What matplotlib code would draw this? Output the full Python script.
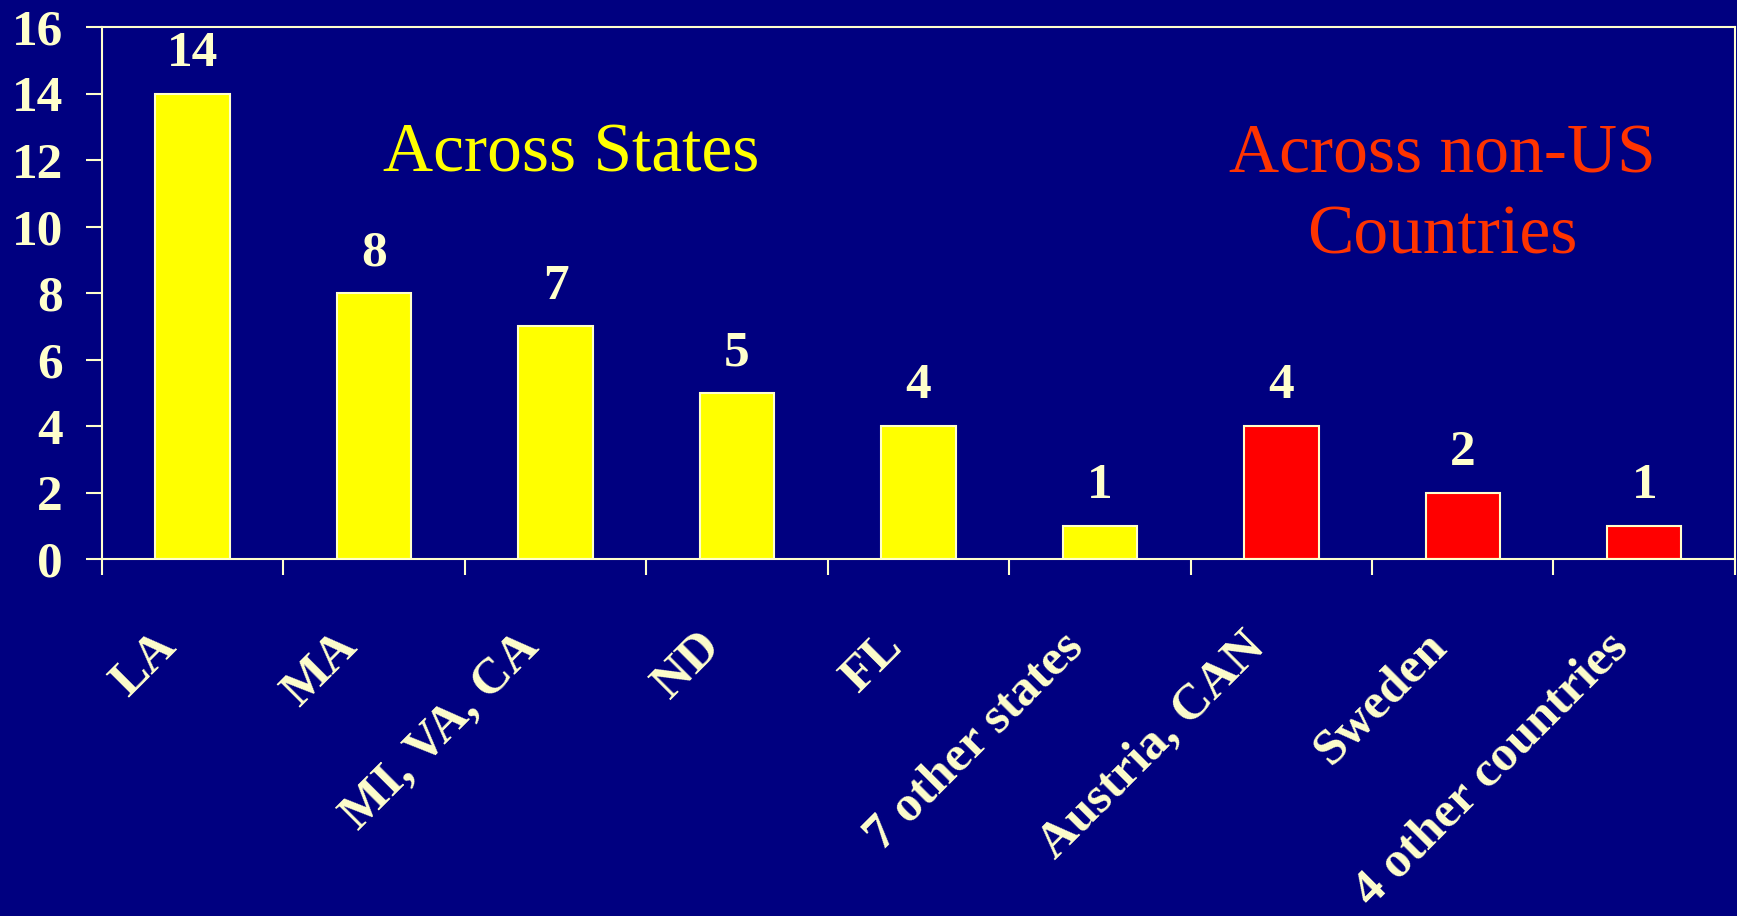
import numpy as np
import matplotlib
matplotlib.use("Agg")
import matplotlib.pyplot as plt
import matplotlib.transforms as mtransforms

# data
categories = ["LA", "MA", "MI, VA, CA", "ND", "FL", "7 other states",
              "Austria, CAN", "Sweden", "4 other countries"]
counts = [14, 8, 7, 5, 4, 1, 4, 2, 1]
group = ["US", "US", "US", "US", "US", "US", "nonUS", "nonUS", "nonUS"]
yticks = [0, 2, 4, 6, 8, 10, 12, 14, 16]

navy = "#000080"
cream = "#FFFFCC"
bar_colours = {"US": "#FFFF00", "nonUS": "#FF0000"}

plt.rcParams['font.family'] = ['Liberation Serif', 'DejaVu Serif']

fig = plt.figure(figsize=(17.37, 9.16), dpi=100, facecolor=navy)
ax = fig.add_axes([0.0587, 0.3897, 0.9401, 0.5808])
ax.set_facecolor(navy)

x = np.arange(len(categories))
cols = [bar_colours[g] for g in group]
bars = ax.bar(x, counts, width=0.41, color=cols, edgecolor=cream, linewidth=1.5)

# value labels above the bars
for xi, v in zip(x, counts):
  ax.annotate(str(v), (xi, v), xytext=(0, 20), textcoords="offset points",
              ha="center", va="baseline", color=cream,
              fontsize=37, fontweight="bold")

ax.set_xlim(-0.5, len(categories) - 0.5)
ax.set_ylim(0, 16)
ax.set_yticks(yticks)
ax.set_yticklabels([str(t) for t in yticks], fontsize=37, fontweight="bold", color=cream)

ax.set_xticks(x)
ax.set_xticklabels(categories, rotation=45, ha="right", fontsize=36.5,
                   fontweight="bold", color=cream)
ax.set_xticks(np.arange(-0.5, len(categories), 1), minor=True)

ax.tick_params(axis="x", which="major", length=0, pad=46.5)
ax.tick_params(axis="x", which="minor", length=11.5, width=1.5, color=cream, direction="out")
ax.tick_params(axis="y", length=11.5, width=1.5, color=cream, pad=16.5)

shift = mtransforms.ScaledTranslation(-7 / 100, 0, fig.dpi_scale_trans)
for lab in ax.get_xticklabels():
  lab.set_transform(lab.get_transform() + shift)

for sp in ax.spines.values():
  sp.set_color(cream)
  sp.set_linewidth(1.5)

ax.text(2.085, 11.64, "Across States", ha="center", va="baseline",
        fontsize=50, color="#FFFF00")
# baseline of the last line
ax.text(6.887, 9.2, "Across non-US\nCountries", ha="center", va="baseline",
        multialignment="center", linespacing=1.35, fontsize=50, color="#FF3300")

fig.savefig("out.png", dpi=100, facecolor=navy)
